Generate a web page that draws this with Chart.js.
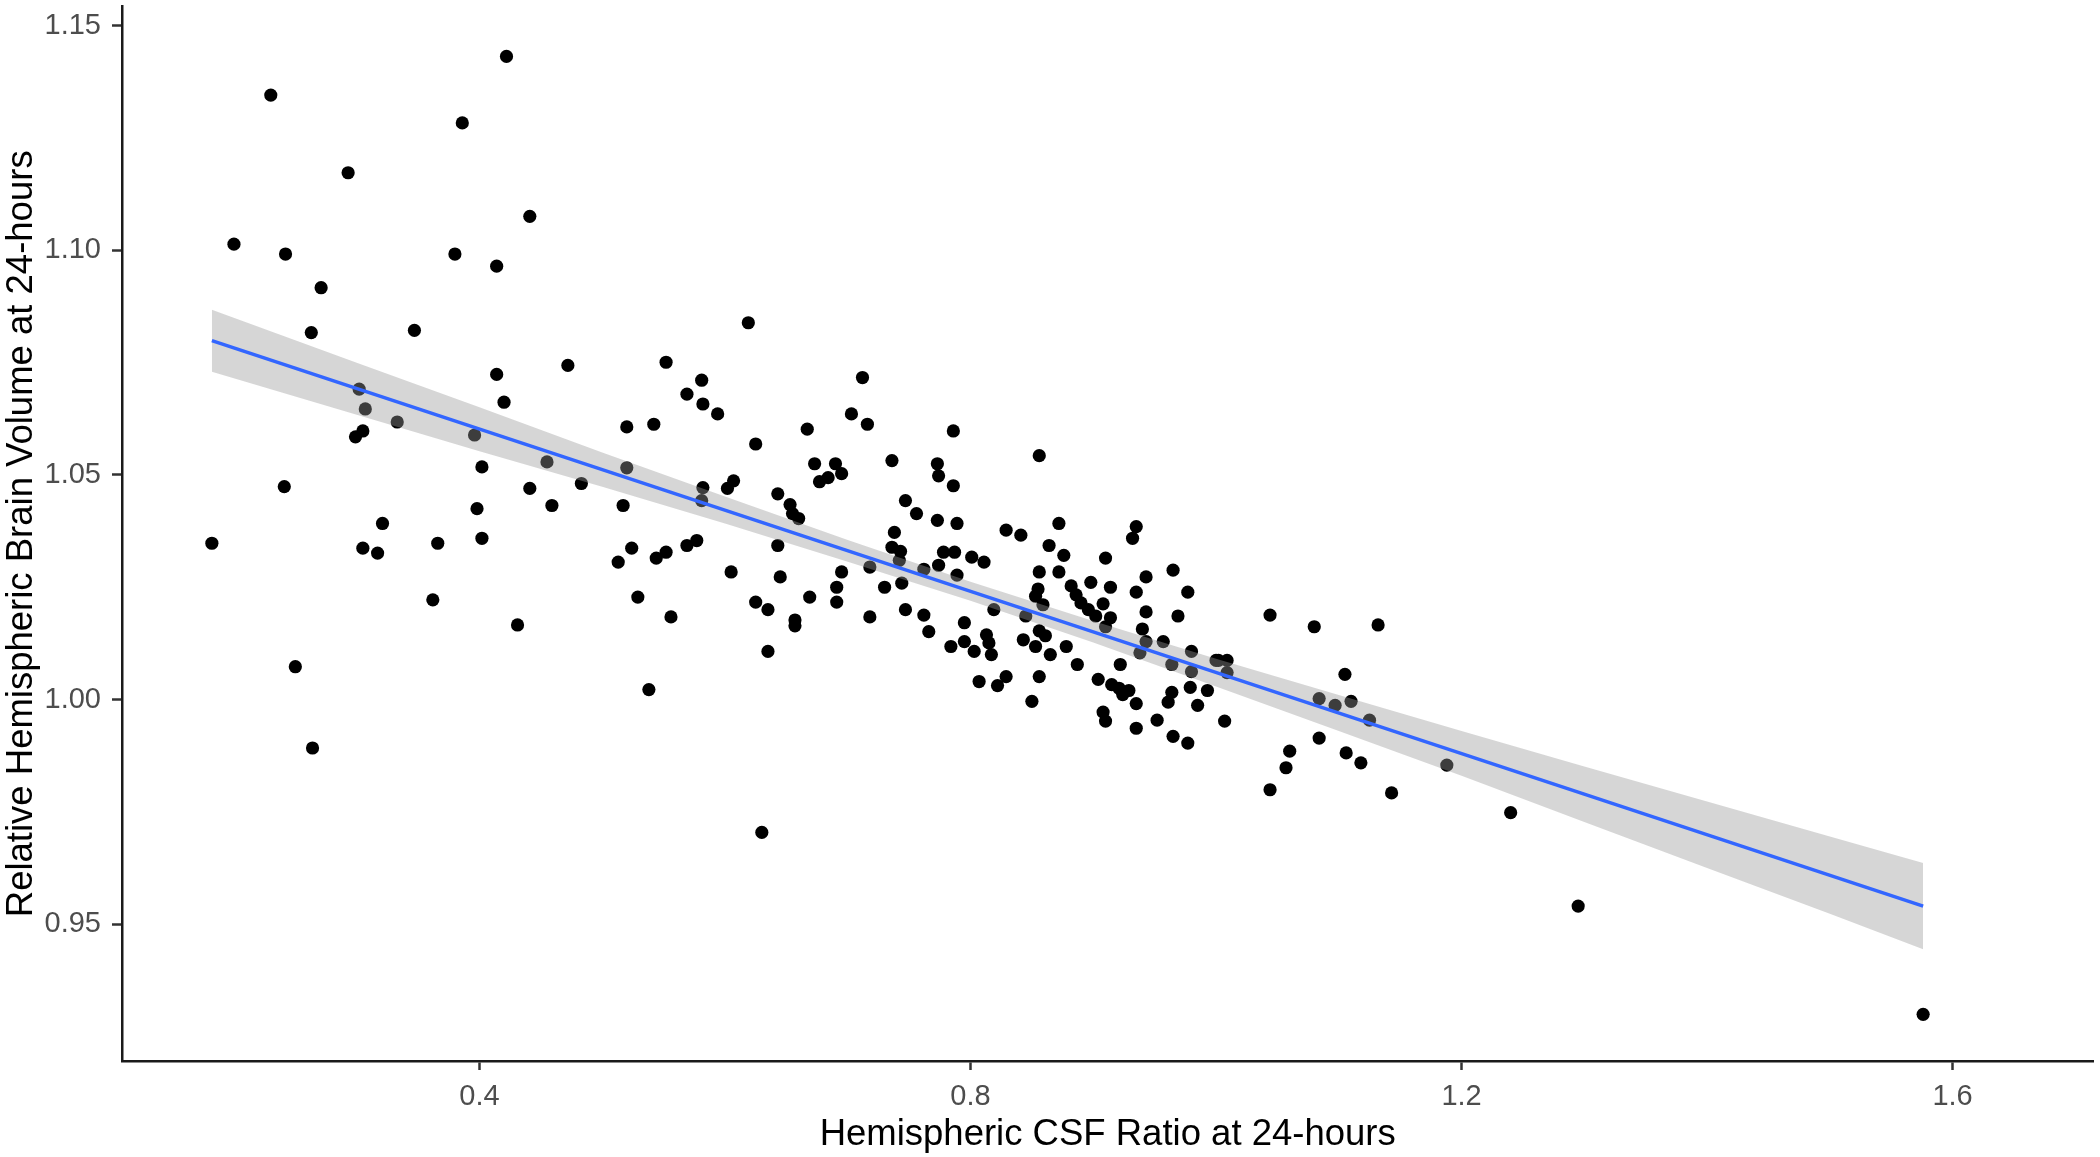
<!DOCTYPE html>
<html lang="en">

<head>
    <meta charset="UTF-8">
    <title>CSF Ratio vs Brain Volume</title>
    <script src="https://cdn.jsdelivr.net/npm/chart.js"></script>
    <style>
        body { margin: 0; background: #ffffff; }
    </style>
</head>

<body>
    <canvas id="csfChart" width="2100" height="1157"></canvas>

    <script>
        // Hemispheric CSF ratio (x) and relative brain volume (y)
        const csfRatio = [
            0.422, 0.230, 0.386, 0.293, 0.441, 0.200, 0.242, 0.380, 0.414, 0.271,
            0.263, 0.347, 0.472, 0.414, 0.420, 0.302, 0.307, 0.333, 0.299, 0.305,
            0.396, 0.402, 0.455, 0.483, 0.241, 0.441, 0.398, 0.459, 0.321, 0.182,
            0.305, 0.317, 0.366, 0.402, 0.362, 0.431, 0.250, 0.264, 0.619, 0.552,
            0.581, 0.569, 0.582, 0.594, 0.712, 0.703, 0.716, 0.667, 0.520, 0.542,
            0.625, 0.736, 0.673, 0.690, 0.695, 0.677, 0.684, 0.520, 0.607, 0.602,
            0.582, 0.581, 0.643, 0.653, 0.655, 0.660, 0.747, 0.756, 0.517, 0.738,
            0.736, 0.743, 0.742, 0.718, 0.524, 0.513, 0.544, 0.552, 0.569, 0.577,
            0.643, 0.605, 0.645, 0.695, 0.744, 0.529, 0.556, 0.625, 0.635, 0.669,
            0.691, 0.691, 0.657, 0.657, 0.730, 0.747, 0.718, 0.635, 0.538, 0.630,
            0.786, 0.856, 0.773, 0.774, 0.786, 0.773, 0.789, 0.829, 0.841, 0.872,
            0.864, 0.876, 0.935, 0.932, 0.910, 0.778, 0.787, 0.801, 0.811, 0.774,
            0.762, 0.789, 0.856, 0.872, 0.965, 0.943, 0.898, 0.914, 0.882, 0.855,
            0.935, 0.977, 0.853, 0.886, 0.890, 0.908, 0.859, 0.896, 0.902, 0.914,
            0.943, 0.969, 0.762, 0.819, 0.845, 0.795, 0.766, 0.813, 0.815, 0.795,
            0.784, 0.803, 0.817, 0.843, 0.856, 0.861, 0.853, 0.865, 0.878, 0.910,
            0.940, 0.943, 0.957, 0.938, 0.922, 0.887, 0.980, 0.964, 0.980, 1.000,
            0.807, 0.822, 0.829, 0.856, 0.904, 0.915, 0.921, 0.929, 0.924, 0.935,
            0.964, 0.961, 0.979, 0.993, 0.985, 0.850, 0.908, 0.910, 0.952, 0.935,
            0.965, 0.977, 1.044, 1.080, 1.132, 1.002, 1.009, 1.009, 1.007, 1.105,
            1.084, 1.097, 1.110, 1.125, 1.188, 1.084, 1.060, 1.057, 1.106, 1.118,
            1.044, 1.143, 1.240, 1.295, 1.576
        ];
        const brainVolume = [
            1.1432, 1.1346, 1.1284, 1.1173, 1.1076, 1.1014, 1.0992, 1.0992, 1.0965, 1.0917,
            1.0817, 1.0822, 1.0744, 1.0724, 1.0662, 1.0691, 1.0647, 1.0618, 1.0585, 1.0598,
            1.0589, 1.0518, 1.0529, 1.0481, 1.0474, 1.0470, 1.0425, 1.0432, 1.0392, 1.0348,
            1.0337, 1.0326, 1.0348, 1.0359, 1.0222, 1.0166, 1.0073, 0.9892, 1.0839, 1.0751,
            1.0711, 1.0680, 1.0658, 1.0636, 1.0717, 1.0636, 1.0613, 1.0602, 1.0607, 1.0613,
            1.0569, 1.0532, 1.0525, 1.0525, 1.0503, 1.0485, 1.0494, 1.0516, 1.0487, 1.0470,
            1.0472, 1.0443, 1.0458, 1.0434, 1.0414, 1.0403, 1.0443, 1.0414, 1.0432, 1.0372,
            1.0339, 1.0330, 1.0310, 1.0295, 1.0337, 1.0306, 1.0315, 1.0328, 1.0343, 1.0354,
            1.0343, 1.0284, 1.0273, 1.0284, 1.0259, 1.0228, 1.0184, 1.0217, 1.0200, 1.0228,
            1.0250, 1.0217, 1.0177, 1.0164, 1.0250, 1.0200, 1.0184, 1.0107, 1.0022, 0.9704,
            1.0598, 1.0543, 1.0525, 1.0498, 1.0476, 1.0399, 1.0392, 1.0377, 1.0366, 1.0392,
            1.0343, 1.0321, 1.0385, 1.0359, 1.0315, 1.0328, 1.0328, 1.0317, 1.0306, 1.0299,
            1.0290, 1.0277, 1.0284, 1.0284, 1.0288, 1.0273, 1.0261, 1.0250, 1.0253, 1.0246,
            1.0239, 1.0239, 1.0230, 1.0233, 1.0215, 1.0213, 1.0211, 1.0200, 1.0186, 1.0182,
            1.0195, 1.0186, 1.0188, 1.0200, 1.0186, 1.0171, 1.0151, 1.0144, 1.0126, 1.0129,
            1.0118, 1.0107, 1.0100, 1.0133, 1.0153, 1.0142, 1.0118, 1.0100, 1.0118, 1.0162,
            1.0157, 1.0129, 1.0129, 1.0104, 1.0078, 1.0078, 1.0107, 1.0078, 1.0062, 1.0087,
            1.0040, 1.0031, 1.0051, 1.0051, 1.0045, 1.0033, 1.0025, 1.0020, 1.0011, 0.9991,
            1.0016, 0.9994, 1.0027, 1.0020, 0.9987, 0.9996, 0.9972, 0.9952, 0.9954, 0.9936,
            0.9918, 0.9903, 1.0188, 1.0162, 1.0166, 1.0087, 1.0087, 1.0060, 0.9952, 1.0056,
            1.0002, 0.9987, 0.9996, 0.9954, 0.9854, 0.9914, 0.9885, 0.9848, 0.9881, 0.9859,
            0.9799, 0.9792, 0.9748, 0.9540, 0.9299
        ];

        // fitted line and its confidence band
        const fitX = [0.182, 1.576];
        const fitY = [1.0799, 0.9540];
        const bandX = [0.182, 0.3, 0.4, 0.5, 0.6, 0.7, 0.8, 0.9, 1.0, 1.1, 1.2, 1.3, 1.4, 1.5, 1.576];
        const bandUpper = [1.0868, 1.0750, 1.0651, 1.0550, 1.0452, 1.0355, 1.0262, 1.0175, 1.0091, 1.0010, 0.9930, 0.9851, 0.9773, 0.9695, 0.9636];
        const bandLower = [1.0730, 1.0634, 1.0553, 1.0474, 1.0392, 1.0307, 1.0220, 1.0127, 1.0029, 0.9930, 0.9830, 0.9727, 0.9625, 0.9523, 0.9444];

        const xTicks = [0.4, 0.8, 1.2, 1.6];
        const xTickLabels = ['0.4', '0.8', '1.2', '1.6'];
        const yTicks = [0.95, 1.00, 1.05, 1.10, 1.15];
        const yTickLabels = ['0.95', '1.00', '1.05', '1.10', '1.15'];

        const fontFamily = '"Liberation Sans", Arial, sans-serif';

        function toPoints(xs, ys) {
            return xs.map((x, i) => ({ x: x, y: ys[i] }));
        }

        function clearPadding(scale) {
            scale.paddingLeft = 0;
            scale.paddingRight = 0;
            scale.paddingTop = 0;
            scale.paddingBottom = 0;
        }

        const ctx = document.getElementById('csfChart').getContext('2d');
        const chart = new Chart(ctx, {
            type: 'scatter',
            data: {
                datasets: [
                    {
                        type: 'line',
                        data: toPoints(fitX, fitY),
                        borderColor: '#3366FF',
                        borderWidth: 3.5,
                        pointRadius: 0,
                        fill: false,
                        order: 0
                    },
                    {
                        type: 'line',
                        data: toPoints(bandX, bandUpper),
                        borderWidth: 0,
                        pointRadius: 0,
                        backgroundColor: 'rgba(153, 153, 153, 0.4)',
                        fill: '+1',
                        order: 1
                    },
                    {
                        type: 'line',
                        data: toPoints(bandX, bandLower),
                        borderWidth: 0,
                        pointRadius: 0,
                        fill: false,
                        order: 1
                    },
                    {
                        data: toPoints(csfRatio, brainVolume),
                        pointRadius: 6.6,
                        pointBorderWidth: 0,
                        pointBackgroundColor: '#000000',
                        order: 2
                    }
                ]
            },
            options: {
                responsive: false,
                animation: false,
                layout: { padding: { left: 0, right: 4, top: 0, bottom: 0 } },
                plugins: {
                    legend: { display: false },
                    tooltip: { enabled: false }
                },
                scales: {
                    x: {
                        type: 'linear',
                        min: 0.1088,
                        max: 1.7147,
                        afterBuildTicks: scale => {
                            scale.ticks = xTicks.map(v => ({ value: v }));
                        },
                        afterFit: scale => {
                            scale.height = 96;
                            clearPadding(scale);
                        },
                        ticks: {
                            callback: (value, index) => xTickLabels[index],
                            color: '#4D4D4D',
                            font: { family: fontFamily, size: 29 },
                            padding: 10,
                            maxRotation: 0,
                            autoSkip: false
                        },
                        grid: {
                            drawOnChartArea: false,
                            tickLength: 9,
                            tickColor: '#333333',
                            tickWidth: 2.5
                        },
                        border: { color: '#1a1a1a', width: 2.5 },
                        title: {
                            display: true,
                            text: 'Hemispheric CSF Ratio at 24-hours',
                            color: '#000000',
                            font: { family: fontFamily, size: 36.5 },
                            padding: { top: 0, bottom: 0 }
                        }
                    },
                    y: {
                        type: 'linear',
                        min: 0.9195,
                        max: 1.1543,
                        afterBuildTicks: scale => {
                            scale.ticks = yTicks.map(v => ({ value: v }));
                        },
                        afterFit: scale => {
                            scale.width = 122;
                            clearPadding(scale);
                        },
                        ticks: {
                            callback: (value, index) => yTickLabels[index],
                            color: '#4D4D4D',
                            font: { family: fontFamily, size: 29 },
                            padding: 11,
                            autoSkip: false
                        },
                        grid: {
                            drawOnChartArea: false,
                            tickLength: 10,
                            tickColor: '#333333',
                            tickWidth: 2.5
                        },
                        border: { color: '#1a1a1a', width: 2.5 },
                        title: {
                            display: true,
                            text: 'Relative Hemispheric Brain Volume at 24-hours',
                            color: '#000000',
                            font: { family: fontFamily, size: 36.5 },
                            padding: { top: 0, bottom: 0 }
                        }
                    }
                }
            }
        });
    </script>
</body>

</html>
